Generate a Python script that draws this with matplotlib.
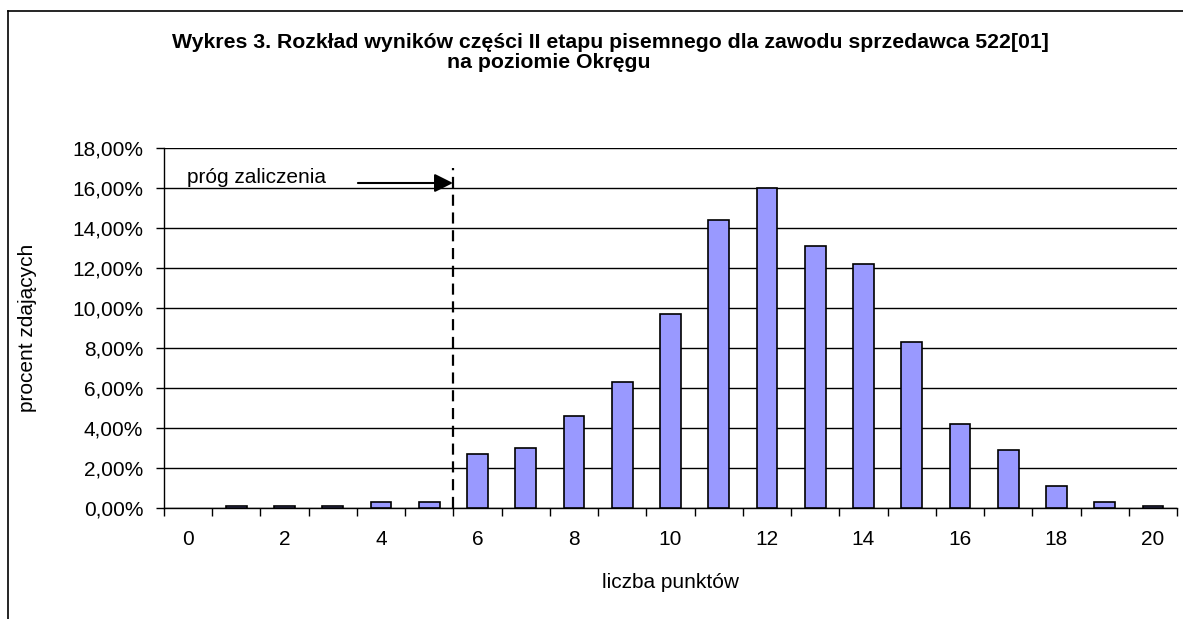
import matplotlib
matplotlib.use("Agg")
from matplotlib import pyplot as plt
from matplotlib.lines import Line2D
from matplotlib.ticker import FuncFormatter
import numpy as np

plt.rcParams['font.family'] = ['Liberation Sans', 'DejaVu Sans']

# points 0..20 and share of candidates (%)
points = list(range(21))
percent = [0.0, 0.1, 0.1, 0.1, 0.3, 0.3, 2.7, 3.0, 4.6, 6.3, 9.7,
           14.4, 16.0, 13.1, 12.2, 8.3, 4.2, 2.9, 1.1, 0.3, 0.1]
threshold = 5.5
y_ticks = [0, 2, 4, 6, 8, 10, 12, 14, 16, 18]

fig = plt.figure(figsize=(11.83, 6.19), dpi=100)
ax = fig.add_axes([164/1183, 1-508/619, (1177-164)/1183, (508-148)/619])

# empty categories get no outline
edges = ["black" if v > 0 else "none" for v in percent]
ax.bar(points, percent, width=0.43, color="#9999FF", edgecolor=edges,
       linewidth=1.2, zorder=3)

ax.set_xlim(-0.5, 20.5)
ax.set_ylim(0, 18)
ax.set_yticks(y_ticks)
ax.yaxis.set_major_formatter(FuncFormatter(lambda v, p: "{:.2f}%".format(v).replace(".", ",")))
ax.yaxis.grid(True, color="black", linewidth=1.0, zorder=0)
ax.set_axisbelow(True)

ax.set_xticks(points[::2])
ax.set_xticks(np.arange(-0.5, 21, 1), minor=True)
ax.tick_params(axis="x", which="major", length=0, labelsize=15, pad=16)
ax.tick_params(axis="x", which="minor", length=6, width=1, direction="out")
ax.tick_params(axis="y", length=6, width=1, labelsize=15, pad=9)

for s in ["top", "right"]:
    ax.spines[s].set_visible(False)
for s in ["left", "bottom"]:
    ax.spines[s].set_linewidth(1.0)

ax.set_xlabel("liczba punktów", fontsize=15)
ax.set_ylabel("procent zdających", fontsize=15)
ax.xaxis.set_label_coords(0.5, (508-582)/360)
ax.xaxis.label.set_va("center")
ax.yaxis.set_label_coords((28-164)/1013, 0.5)
ax.yaxis.label.set_va("center")

# threshold line and arrow
ax.plot([threshold, threshold], [0, 17], color="black", linewidth=1.6,
        linestyle=(0, (5, 3)), zorder=4, clip_on=False)
ax.annotate("", xy=(threshold - 0.01, 16.25), xytext=(3.52, 16.25),
            arrowprops=dict(arrowstyle="-|>", color="black", lw=1.5,
                            mutation_scale=28, shrinkA=0, shrinkB=0), zorder=5)
ax.text(-0.02, 16.25, "próg zaliczenia", fontsize=15, ha="left", va="baseline", zorder=5)

# title
fig.text(610/1183, 1-42/619, "Wykres 3. Rozkład wyników części II etapu pisemnego dla zawodu sprzedawca 522[01]",
         fontsize=15.3, fontweight="bold", ha="center", va="center")
fig.text(447/1183, 1-62/619, "na poziomie Okręgu",
         fontsize=15.3, fontweight="bold", ha="left", va="center")

# chart frame (left and top edges visible)
fig.add_artist(Line2D([8/1183, 8/1183], [0, 1-11/619], color="black", linewidth=1.2))
fig.add_artist(Line2D([8/1183, 1], [1-11/619, 1-11/619], color="black", linewidth=1.2))

fig.savefig("out.png", dpi=100)
